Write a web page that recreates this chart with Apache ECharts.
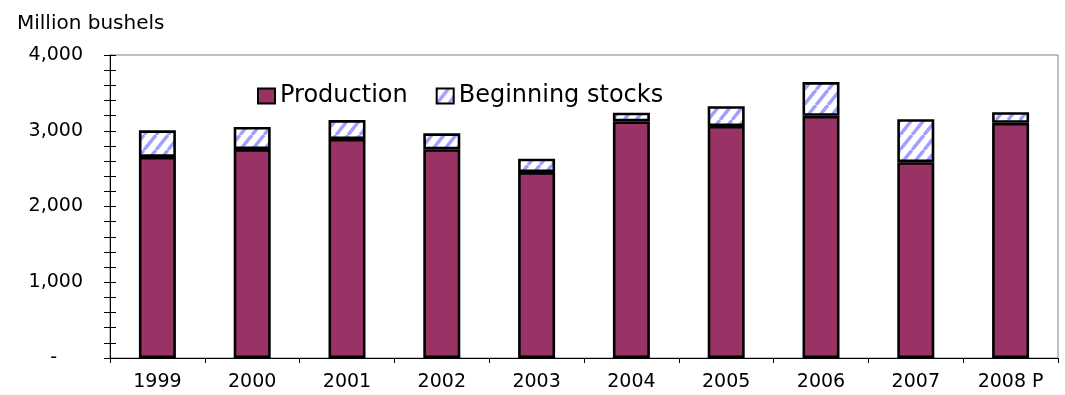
<!DOCTYPE html>
<html>
<head>
<meta charset="utf-8">
<style>
  html, body { margin: 0; padding: 0; background: #ffffff; }
  #chart { width: 1065px; height: 395px; }
</style>
<script src="https://cdn.jsdelivr.net/npm/echarts@6/dist/echarts.min.js"></script>
</head>
<body>
<div id="chart"></div>
<script>
const years = ['1999', '2000', '2001', '2002', '2003', '2004', '2005', '2006', '2007', '2008 P'];
const production = [2654, 2758, 2891, 2756, 2454, 3124, 3063, 3197, 2585, 3105];
const beginningStocks = [352, 292, 250, 210, 178, 114, 262, 446, 568, 140];
const yTickLabels = { 0: '-', 1000: '1,000', 2000: '2,000', 3000: '3,000', 4000: '4,000' };

const FONT = 'DejaVu Sans';

// diagonal hatch pattern for beginning stocks
function makeHatch() {
  const w = 12, h = 15;
  const c = document.createElement('canvas');
  c.width = w; c.height = h;
  const ctx = c.getContext('2d');
  ctx.fillStyle = '#ffffff';
  ctx.fillRect(0, 0, w, h);
  ctx.strokeStyle = '#9f9fff';
  ctx.lineWidth = 3.4;
  for (let k = -1; k <= 1; k++) {
    ctx.beginPath();
    ctx.moveTo(k * w, h);
    ctx.lineTo(k * w + w, 0);
    ctx.stroke();
  }
  return c;
}
const hatch = makeHatch();

const chart = echarts.init(document.getElementById('chart'), null, { renderer: 'canvas' });

const yCommon = {
  type: 'value',
  min: 0,
  max: 4000,
  interval: 200,
  position: 'left',
  splitLine: { show: false }
};

chart.setOption({
  backgroundColor: '#ffffff',
  animation: false,
  title: {
    text: 'Million bushels',
    left: 12,
    top: 9,
    textStyle: { fontFamily: FONT, fontSize: 20, fontWeight: 'normal', color: '#000' }
  },
  legend: {
    left: 252,
    top: 79,
    itemWidth: 17,
    itemHeight: 15,
    itemGap: 28,
    icon: 'rect',
    textStyle: { fontFamily: FONT, fontSize: 24, color: '#000' },
    data: ['Production', 'Beginning stocks']
  },
  grid: {
    left: 110,
    right: 7,
    top: 55,
    bottom: 37,
    show: true,
    borderColor: '#808080',
    borderWidth: 1,
    backgroundColor: '#ffffff'
  },
  xAxis: {
    type: 'category',
    data: years,
    boundaryGap: true,
    axisLine: { lineStyle: { color: '#000', width: 1 } },
    axisTick: { show: true, alignWithLabel: false, length: 5, lineStyle: { color: '#000' } },
    axisLabel: { fontFamily: FONT, fontSize: 19, color: '#000', margin: 15 }
  },
  yAxis: [
    Object.assign({}, yCommon, {
      axisLine: { show: true, lineStyle: { color: '#000', width: 1 } },
      axisTick: { show: true, inside: false, length: 6, lineStyle: { color: '#000' } },
      axisLabel: {
        fontFamily: FONT, fontSize: 19, color: '#000', margin: 27,
        formatter: function (v) {
          if (v === 0) return '{z|-}';
          return yTickLabels[v] !== undefined ? yTickLabels[v] : '';
        },
        rich: { z: { fontFamily: FONT, fontSize: 19, color: '#000', padding: [0, 26, 0, 0] } }
      }
    }),
    Object.assign({}, yCommon, {
      axisLine: { show: false },
      axisTick: { show: true, inside: true, length: 6, lineStyle: { color: '#000' } },
      axisLabel: { show: false }
    })
  ],
  series: [
    {
      name: 'Production',
      type: 'bar',
      stack: 'total',
      barWidth: 37,
      data: production,
      itemStyle: { color: '#993366', borderColor: '#000', borderWidth: 2.6 }
    },
    {
      name: 'Beginning stocks',
      type: 'bar',
      stack: 'total',
      barWidth: 37,
      data: beginningStocks,
      itemStyle: { color: { image: hatch, repeat: 'repeat' }, borderColor: '#000', borderWidth: 2.6 }
    }
  ]
});
</script>
</body>
</html>
